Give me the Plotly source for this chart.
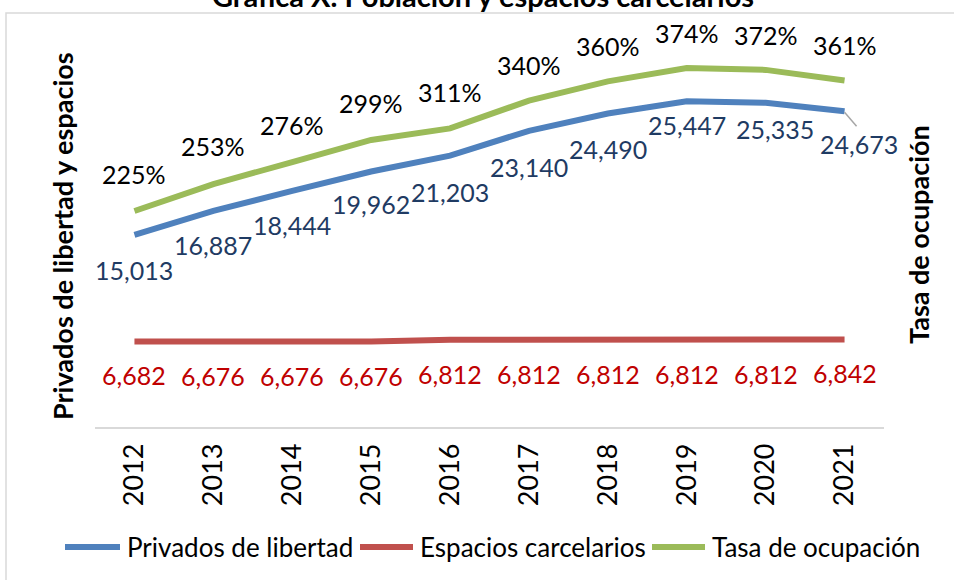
import plotly.graph_objects as go

years = ["2012", "2013", "2014", "2015", "2016", "2017", "2018", "2019", "2020", "2021"]
privados = [15013, 16887, 18444, 19962, 21203, 23140, 24490, 25447, 25335, 24673]
espacios = [6682, 6676, 6676, 6676, 6812, 6812, 6812, 6812, 6812, 6842]
tasa = [225, 253, 276, 299, 311, 340, 360, 374, 372, 361]

title_text = "Gráfica X. Población y espacios carcelarios"
left_title = "Privados de libertad y espacios"
right_title = "Tasa de ocupación"
names = ["Privados de libertad", "Espacios carcelarios", "Tasa de ocupación"]

# label offsets (pixels: dx right, dy down)
blue_dx = [0, 0, 0, 0, 0, 0, 0, 0, 9, 14]
blue_dy = [35, 34, 34, 33, 36, 36, 35, 24, 26, 33]
green_dy = [-37, -38, -37, -37, -36, -36, -35, -35, -35, -35]
red_dy = [34] * 10

BLUE = "#4F81BD"
RED = "#C0504D"
GREEN = "#9BBB59"
FONT = "Lato, Open Sans, sans-serif"
LABEL_SIZE = 25

W, H = 954, 580
L, R, T, B = 95, 70, 43, 153
PW, PH = W - L - R, H - T - B

def px_x(p):
    return (p - L) / PW

def px_y(p):
    return (H - B - p) / PH

xi = list(range(len(years)))

fig = go.Figure()
fig.add_trace(go.Scatter(x=xi, y=privados, mode="lines", name=names[0],
                         line=dict(color=BLUE, width=6), showlegend=False))
fig.add_trace(go.Scatter(x=xi, y=espacios, mode="lines", name=names[1],
                         line=dict(color=RED, width=6), showlegend=False))
fig.add_trace(go.Scatter(x=xi, y=tasa, mode="lines", name=names[2], yaxis="y2",
                         line=dict(color=GREEN, width=6), showlegend=False))

ann = []
for i in xi:
    ann.append(dict(x=i, y=privados[i], xref="x", yref="y", text=f"{privados[i]:,}",
                    showarrow=False, xshift=blue_dx[i], yshift=-blue_dy[i],
                    xanchor="center", yanchor="middle",
                    font=dict(family=FONT, size=LABEL_SIZE, color="#1F3B63")))
    ann.append(dict(x=i, y=espacios[i], xref="x", yref="y", text=f"{espacios[i]:,}",
                    showarrow=False, yshift=-red_dy[i], xanchor="center", yanchor="middle",
                    font=dict(family=FONT, size=LABEL_SIZE, color="#C00000")))
    ann.append(dict(x=i, y=tasa[i], xref="x", yref="y2", text=f"{tasa[i]}%",
                    showarrow=False, yshift=-green_dy[i], xanchor="center", yanchor="middle",
                    font=dict(family=FONT, size=LABEL_SIZE, color="#000000")))

# titles
ann.append(dict(x=px_x(483), y=px_y(-5), xref="paper", yref="paper", text=f"<b>{title_text}</b>",
                xanchor="center", yanchor="middle",
                showarrow=False, font=dict(family=FONT, size=29, color="#000000")))
ann.append(dict(x=px_x(62), y=px_y(236), xref="paper", yref="paper", text=f"<b>{left_title}</b>",
                xanchor="center", yanchor="middle",
                textangle=-90, showarrow=False, font=dict(family=FONT, size=27, color="#000000")))
ann.append(dict(x=px_x(918), y=px_y(235), xref="paper", yref="paper", text=f"<b>{right_title}</b>",
                xanchor="center", yanchor="middle",
                textangle=-90, showarrow=False, font=dict(family=FONT, size=27, color="#000000")))

# custom legend
legend_items = [(65, 120, 125, BLUE, names[0]), (360, 413, 418, RED, names[1]), (652, 705, 710, GREEN, names[2])]
shapes = []
for x0, x1, tx, col, nm in legend_items:
    shapes.append(dict(type="line", xref="paper", yref="paper", x0=px_x(x0), x1=px_x(x1),
                       y0=px_y(547), y1=px_y(547), line=dict(color=col, width=6)))
    ann.append(dict(x=px_x(tx), y=px_y(547), xref="paper", yref="paper", text=nm,
                    xanchor="left", yanchor="middle",
                    showarrow=False, font=dict(family=FONT, size=26, color="#000000")))

# leader line for last blue label
shapes.append(dict(type="line", xref="x", yref="y", xsizemode="pixel", ysizemode="pixel",
                   xanchor=xi[-1], yanchor=privados[-1], x0=0, x1=12, y0=-1, y1=-15,
                   line=dict(color="#A6A6A6", width=1.5)))
# chart border
shapes.append(dict(type="rect", xref="paper", yref="paper", x0=px_x(6), x1=px_x(1000),
                   y0=px_y(640), y1=px_y(13), line=dict(color="#D9D9D9", width=1.5),
                   fillcolor="rgba(0,0,0,0)", layer="below"))

fig.update_layout(
    width=W, height=H,
    margin=dict(l=L, r=R, t=T, b=B, autoexpand=False),
    paper_bgcolor="white", plot_bgcolor="white",
    showlegend=False,
    xaxis=dict(range=[-0.5, 9.5], tickvals=xi, ticktext=years, showline=True,
               linecolor="#D9D9D9", linewidth=1.5,
               showgrid=False, zeroline=False, ticks="", tickangle=-90,
               tickfont=dict(family=FONT, size=27, color="#000000"), ticklabelstandoff=4),
    yaxis=dict(range=[0, 30000], showticklabels=False, showline=False, ticks="",
               showgrid=False, zeroline=False),
    yaxis2=dict(range=[0, 400], overlaying="y", side="right", showticklabels=False, showline=False,
                ticks="", showgrid=False, zeroline=False),
    annotations=ann,
    shapes=shapes,
)

fig.write_html("out.html")
